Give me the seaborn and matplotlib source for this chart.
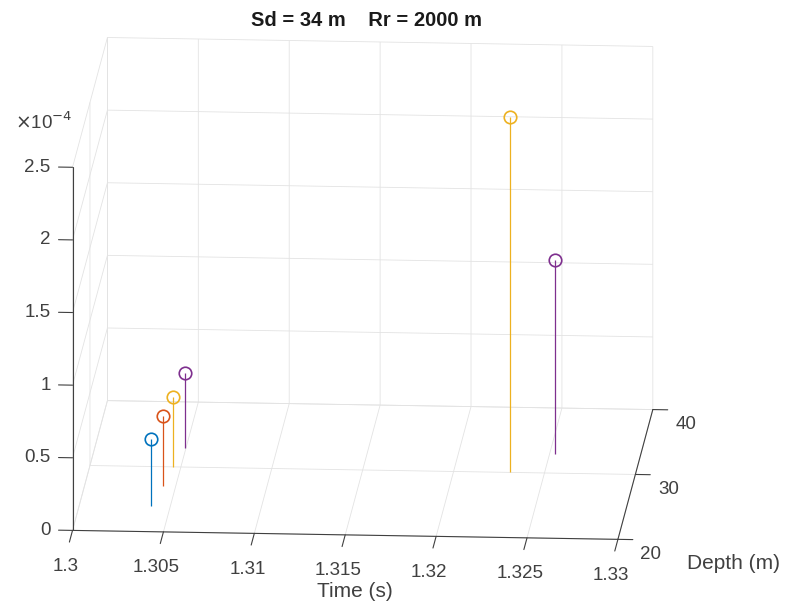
import numpy as np
import matplotlib
matplotlib.use("Agg")
import matplotlib.pyplot as plt
from matplotlib.transforms import IdentityTransform
from mpl_toolkits.mplot3d import proj3d
import seaborn as sns

# Arrival data per receiver depth: travel time (s) and amplitude
depths = [24, 27, 30, 33]
times = [
    [1.30396],
    [1.30430],
    [1.30458, 1.32308],
    [1.30493, 1.32529],
]
amplitudes = [
    [0.461e-4],
    [0.482e-4],
    [0.482e-4, 2.445e-4],
    [0.510e-4, 1.330e-4],
]
series_colors = ["#0072BD", "#D95319", "#EDB120", "#7E2F8E"]

x_ticks = [1.3, 1.305, 1.31, 1.315, 1.32, 1.325, 1.33]
x_tick_labels = ["1.3", "1.305", "1.31", "1.315", "1.32", "1.325", "1.33"]
y_ticks = [20, 30, 40]
y_tick_labels = ["20", "30", "40"]
z_ticks = [0, 0.5, 1, 1.5, 2, 2.5]
z_tick_labels = ["0", "0.5", "1", "1.5", "2", "2.5"]
z_scale = 1e-4

XLIM = (1.3, 1.33)
YLIM = (20, 40)
ZLIM = (0, 2.5)

TEXT = "#404040"
sns.set_style("white")
plt.rcParams["font.family"] = ["Liberation Sans", "DejaVu Sans"]
plt.rcParams["grid.color"] = "#e3e3e3"
plt.rcParams["grid.linewidth"] = 0.6

fig = plt.figure(figsize=(7.86, 6.07), dpi=100)
ax = fig.add_axes([-0.0485, 0.037, 1.0, 0.95], projection="3d")
ax.set_proj_type("ortho")
ax.computed_zorder = False

# Outward tick marks in the same orientation as the axis box
tick_kw = dict(color=TEXT, linewidth=0.8, clip_on=False, zorder=1)
for v in x_ticks:
    ax.plot([v, v], [YLIM[0], YLIM[0] - 1.8], [ZLIM[0], ZLIM[0]], **tick_kw)
for v in y_ticks:
    ax.plot([XLIM[1], XLIM[1] + 0.00082], [v, v], [ZLIM[0], ZLIM[0]], **tick_kw)
for v in z_ticks:
    ax.plot([XLIM[0], XLIM[0] - 0.00077], [YLIM[0], YLIM[0]], [v, v], **tick_kw)

# Stem plot: one vertical line per arrival, open circle at its amplitude
palette = sns.color_palette(series_colors)
for d, t, a, c in zip(depths, times, amplitudes, palette):
    z = np.asarray(a) / z_scale
    for ti, zi in zip(t, z):
        ax.plot([ti, ti], [d, d], [0, zi], color=c, linewidth=0.9,
                solid_capstyle="butt", zorder=5)
    ax.plot(t, [d] * len(t), z, linestyle="none", marker="o", markersize=9,
            markerfacecolor="none", markeredgecolor=c, markeredgewidth=1.2,
            zorder=6)

ax.set_xticks(x_ticks)
ax.set_yticks(y_ticks)
ax.set_zticks(z_ticks)
ax.set_xticklabels([])
ax.set_yticklabels([])
ax.set_zticklabels([])

ax.set_box_aspect((547, 527, 375), zoom=1.425)
ax.view_init(elev=14.3, azim=-86.2)
ax.zaxis.set_ticks_position("lower")

for axis in (ax.xaxis, ax.yaxis, ax.zaxis):
    axis.set_pane_color((1, 1, 1, 0))
    axis.pane.set_edgecolor((1, 1, 1, 0))
    axis.line.set_color(TEXT)
    axis.line.set_linewidth(0.8)
    axis._axinfo["tick"]["inward_factor"] = 0.0
    axis._axinfo["tick"]["outward_factor"] = 0.0

ax.set_xlim(*XLIM)
ax.set_ylim(*YLIM)
ax.set_zlim(*ZLIM)

fig.canvas.draw()
M = ax.get_proj()


def to_px(x, y, z):
    xs, ys, _ = proj3d.proj_transform(x, y, z, M)
    return ax.transData.transform((xs, ys))


px = IdentityTransform()
tick_fs = 13.5

# Time tick labels below the front edge
for v, s in zip(x_ticks, x_tick_labels):
    X, Y = to_px(v, YLIM[0], ZLIM[0])
    fig.text(X - 7, Y - 36, s, transform=px, ha="center", va="center",
             fontsize=tick_fs, color=TEXT)

# Depth tick labels to the right of the right edge
for v, s in zip(y_ticks, y_tick_labels):
    X, Y = to_px(XLIM[1], v, ZLIM[0])
    fig.text(X + 33, Y - 15, s, transform=px, ha="center", va="center",
             fontsize=tick_fs, color=TEXT)

# Amplitude tick labels left of the vertical axis
for v, s in zip(z_ticks, z_tick_labels):
    X, Y = to_px(XLIM[0], YLIM[0], v)
    fig.text(X - 22, Y, s, transform=px, ha="right", va="center",
             fontsize=tick_fs, color=TEXT)

X, Y = to_px(XLIM[0], YLIM[0], ZLIM[1])
fig.text(X - 58, Y + 45, r"$\times$10$^{-4}$", transform=px, ha="left",
         va="center", fontsize=tick_fs, color=TEXT)

fig.text(0.452, 0.025, "Time (s)", ha="center", va="center",
         fontsize=15, color=TEXT)
fig.text(0.874, 0.072, "Depth (m)", ha="left", va="center",
         fontsize=15, color=TEXT)
fig.text(0.466, 0.966, "Sd = 34 m    Rr = 2000 m", ha="center", va="center",
         fontsize=14.5, fontweight="bold", color="#1a1a1a")

fig.savefig("out.png", dpi=100)
